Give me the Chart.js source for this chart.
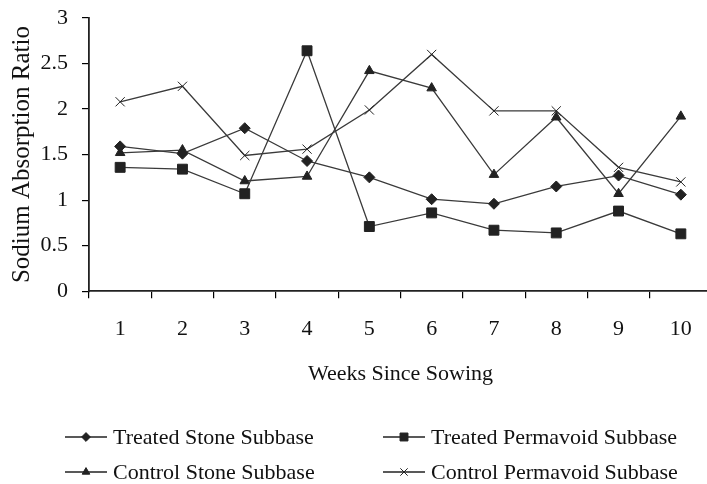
<!DOCTYPE html>
<html>
<head>
<meta charset="utf-8">
<script src="https://cdn.jsdelivr.net/npm/chart.js@4/dist/chart.umd.min.js"></script>
<style>
  html, body { margin: 0; padding: 0; background: #fff; overflow: hidden; }
  #wrap { position: relative; width: 720px; height: 484px; }
</style>
</head>
<body>
<div id="wrap"><canvas id="chart"></canvas></div>
<script>
// Weekly sodium absorption ratio readings for the four subbase plots
const weeks = ['1', '2', '3', '4', '5', '6', '7', '8', '9', '10'];
const treatedStone     = [1.59, 1.51, 1.79, 1.43, 1.25, 1.01, 0.96, 1.15, 1.27, 1.06];
const treatedPermavoid = [1.36, 1.34, 1.07, 2.64, 0.71, 0.86, 0.67, 0.64, 0.88, 0.63];
const controlStone     = [1.52, 1.55, 1.21, 1.26, 2.42, 2.23, 1.28, 1.91, 1.07, 1.92];
const controlPermavoid = [2.08, 2.25, 1.49, 1.56, 1.99, 2.60, 1.98, 1.98, 1.36, 1.20];
const seriesNames = ['Treated Stone Subbase', 'Treated Permavoid Subbase',
                     'Control Stone Subbase', 'Control Permavoid Subbase'];
const yTicks = [0, 0.5, 1, 1.5, 2, 2.5, 3];

const FONT = '"Liberation Serif", "Times New Roman", serif';
const INK = '#111';
const LINE = '#3a3a3a';

Chart.defaults.font.family = FONT;
Chart.defaults.color = INK;

function series(label, data, style, radius) {
  return {
    label, data,
    borderColor: LINE, borderWidth: 1.3,
    pointStyle: style, pointRadius: radius, pointHoverRadius: radius,
    pointBackgroundColor: '#222', pointBorderColor: '#222', pointBorderWidth: 1,
    tension: 0, fill: false
  };
}

// Two-column legend drawn under the axis title
const gridLegend = {
  id: 'gridLegend',
  afterDraw(chart) {
    const ctx = chart.ctx;
    const cols = [65, 383];
    const rows = [437, 472];
    ctx.save();
    chart.data.datasets.forEach((ds, i) => {
      const x0 = cols[i % 2];
      const y = rows[Math.floor(i / 2)];
      ctx.strokeStyle = '#222';
      ctx.lineWidth = 1.6;
      ctx.beginPath();
      ctx.moveTo(x0, y);
      ctx.lineTo(x0 + 42, y);
      ctx.stroke();
      ctx.fillStyle = '#222';
      ctx.lineWidth = 1;
      Chart.helpers.drawPoint(ctx, {
        pointStyle: ds.pointStyle, radius: ds.pointRadius * 0.8,
        rotation: 0, borderWidth: 1
      }, x0 + 21, y);
      ctx.fillStyle = INK;
      ctx.font = '22px ' + FONT;
      ctx.textBaseline = 'middle';
      ctx.textAlign = 'left';
      ctx.fillText(ds.label, x0 + 48, y + 1);
    });
    ctx.restore();
  }
};

new Chart(document.getElementById('chart'), {
  type: 'line',
  data: {
    labels: weeks,
    datasets: [
      series(seriesNames[0], treatedStone, 'rectRot', 5.5),
      series(seriesNames[1], treatedPermavoid, 'rect', 7),
      series(seriesNames[2], controlStone, 'triangle', 5.5),
      series(seriesNames[3], controlPermavoid, 'crossRot', 6.5)
    ]
  },
  options: {
    responsive: true,
    maintainAspectRatio: false,
    animation: false,
    events: [],
    layout: { padding: { left: 3, right: 4, top: 18, bottom: 97 } },
    plugins: { legend: { display: false }, tooltip: { enabled: false } },
    scales: {
      x: {
        type: 'category',
        offset: true,
        grid: { display: true, drawOnChartArea: false, drawTicks: true,
                tickLength: 7, offset: true, color: '#000', lineWidth: 1.2 },
        border: { display: true, color: '#222', width: 1.8 },
        ticks: { font: { size: 22 }, padding: 18, color: INK, maxRotation: 0 },
        title: { display: true, text: 'Weeks Since Sowing', font: { size: 22 },
                 color: INK, padding: { top: 0, bottom: 0 } }
      },
      y: {
        min: 0, max: 3,
        afterBuildTicks(scale) { scale.ticks = yTicks.map(v => ({ value: v })); },
        afterFit(scale) {
          scale.width = 86;
          scale.paddingTop = 0;
          scale.paddingBottom = 0;
        },
        grid: { display: true, drawOnChartArea: false, drawTicks: true,
                tickLength: 7, color: '#000', lineWidth: 1.2 },
        border: { display: true, color: '#222', width: 1.8 },
        ticks: { font: { size: 22 }, padding: 14, color: INK,
                 callback: v => String(v) },
        title: { display: true, text: 'Sodium Absorption Ratio', font: { size: 25 },
                 color: INK, padding: { top: 4, bottom: 4 } }
      }
    }
  },
  plugins: [gridLegend]
});
</script>
</body>
</html>
